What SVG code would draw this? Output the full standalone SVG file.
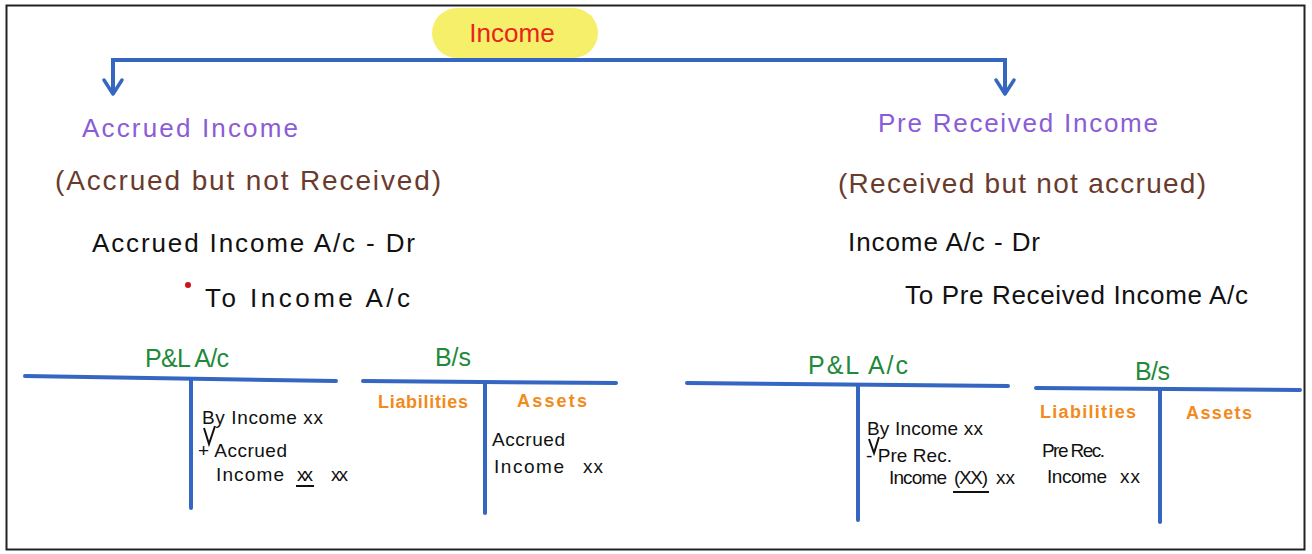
<svg xmlns="http://www.w3.org/2000/svg" width="1312" height="554" viewBox="0 0 1312 554">
<defs>
<style>
text{font-family:"Liberation Sans",Arial,sans-serif}
.ttl{fill:#8a5cd8;font-size:26px}
.sub{fill:#6a3b2c;font-size:28px}
.jr{fill:#111;font-size:26px}
.grn{fill:#1f8a3a;font-size:25px}
.org{fill:#f28a1c;font-size:18px;font-weight:bold}
.ent{fill:#111;font-size:19px}
.tl{stroke:#3566c2;stroke-width:4;fill:none;stroke-linecap:round}
.conn{stroke:#3566c2;stroke-width:4;fill:none}
.arr{fill:none;stroke:#3566c2;stroke-width:3.5;stroke-linejoin:round;stroke-linecap:round}
.pen{fill:none;stroke:#111;stroke-width:2}
</style>
</defs>
<rect x="0" y="0" width="1312" height="554" fill="#fff"/>
<rect x="6.5" y="5.5" width="1298" height="544" fill="none" stroke="#222" stroke-width="2"/>

<g id="connectors">
<path class="conn" d="M113,93 L113,60 L1005,60 L1005,93"/>
<path class="arr" d="M104,80 L113,94 L122,80"/>
<path class="arr" d="M996,80 L1005,94 L1014,80"/>
</g>

<g id="income">
<rect x="432" y="8" width="166" height="50" rx="25" fill="#f6ef6a"/>
<text x="512" y="42" font-size="26" fill="#e8231c" text-anchor="middle">Income</text>
</g>

<g id="accrued">
<text class="ttl" x="82" y="137" textLength="216">Accrued Income</text>
<text class="sub" x="55" y="190" textLength="386">(Accrued but not Received)</text>
<text class="jr" x="92" y="252" textLength="323">Accrued Income A/c - Dr</text>
<circle cx="188" cy="285" r="3" fill="#d0101a"/>
<text class="jr" x="205" y="307" textLength="205">To Income A/c</text>
</g>

<g id="prereceived">
<text class="ttl" x="878" y="132" textLength="280">Pre Received Income</text>
<text class="sub" x="838" y="193" textLength="368">(Received but not accrued)</text>
<text class="jr" x="848" y="251" textLength="192">Income A/c - Dr</text>
<text class="jr" x="905" y="304" textLength="343">To Pre Received Income A/c</text>
</g>

<g id="left-pl">
<text class="grn" x="145" y="367" textLength="84">P&amp;L A/c</text>
<path class="tl" d="M25,376 L336,381"/>
<path class="tl" d="M191,380 L191,508"/>
<text class="ent" x="202" y="424" textLength="121">By Income xx</text>
<path class="pen" d="M204,428 L209,444 L215,426"/>
<text class="ent" x="198" y="457" textLength="89">+ Accrued</text>
<text class="ent" x="216" y="481" textLength="68">Income</text>
<text class="ent" x="297" y="481" textLength="16">xx</text>
<text class="ent" x="331" y="481" textLength="17">xx</text>
<path d="M296,486 L314,486" stroke="#111" stroke-width="2"/>
</g>

<g id="left-bs">
<text class="grn" x="435" y="366" textLength="36">B/s</text>
<path class="tl" d="M363,381 L616,383"/>
<path class="tl" d="M485,383 L485,513"/>
<text class="org" x="378" y="408" textLength="90">Liabilities</text>
<text class="org" x="517" y="407" textLength="70">Assets</text>
<text class="ent" x="492" y="446" textLength="73">Accrued</text>
<text class="ent" x="494" y="473" textLength="70">Income</text>
<text class="ent" x="583" y="473" textLength="20">xx</text>
</g>

<g id="right-pl">
<text class="grn" x="808" y="374" textLength="100">P&amp;L A/c</text>
<path class="tl" d="M687,383 L1008,386"/>
<path class="tl" d="M858,386 L858,520"/>
<text class="ent" x="867" y="435" textLength="116">By Income xx</text>
<path class="pen" d="M869,439 L874,453 L879,437"/>
<text class="ent" x="866" y="462" textLength="86">- Pre Rec.</text>
<text class="ent" x="889" y="484" textLength="58">Income</text>
<text class="ent" x="954" y="484" textLength="34">(XX)</text>
<text class="ent" x="996" y="484" textLength="19">xx</text>
<path d="M953,492 L989,492" stroke="#111" stroke-width="2"/>
</g>

<g id="right-bs">
<text class="grn" x="1135" y="380" textLength="35">B/s</text>
<path class="tl" d="M1036,388 L1300,390"/>
<path class="tl" d="M1160,390 L1160,522"/>
<text class="org" x="1040" y="418" textLength="96">Liabilities</text>
<text class="org" x="1186" y="419" textLength="66">Assets</text>
<text class="ent" x="1042" y="457" textLength="63">Pre Rec.</text>
<text class="ent" x="1047" y="483" textLength="60">Income</text>
<text class="ent" x="1120" y="483" textLength="20">xx</text>
</g>
</svg>
